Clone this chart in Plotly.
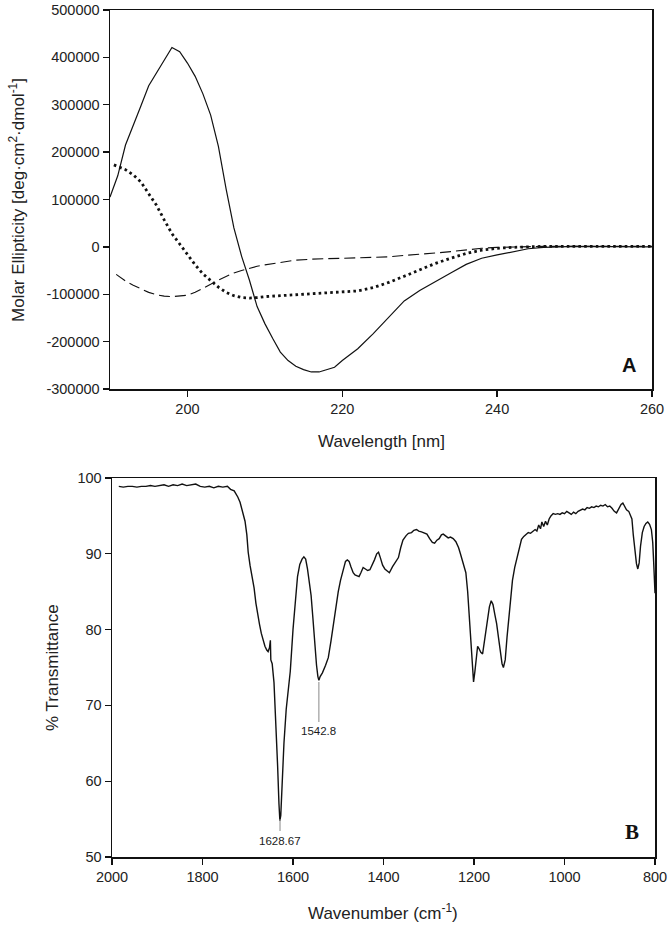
import plotly.graph_objects as go

# ---------------- Panel A: CD spectra ----------------
wl_solid = [190, 191, 192, 192.5, 193, 194, 195, 196, 197, 198, 199, 200, 201, 202, 203, 204, 205,
            206, 207, 208, 209, 210, 211, 212, 213, 214, 215, 216, 217, 218, 219, 220, 221, 222,
            224, 226, 228, 230, 232, 234, 236, 238, 240, 242, 244, 246, 248, 250, 255, 260]
cd_solid = [105000, 150000, 215000, 235000, 255000, 298000, 340000, 368000, 395000, 421000,
            412000, 388000, 360000, 323000, 278000, 212000, 122000, 40000, -20000, -70000,
            -126000, -162000, -193000, -222000, -240000, -252000, -259000, -264000, -264000,
            -259000, -254000, -240000, -228000, -215000, -183000, -148000, -114000, -92000,
            -73000, -55000, -37000, -24000, -17000, -10000, -4000, -1000, 0, 1000, 500, 0]

wl_dot = [190.5, 191, 192, 193, 194, 195, 196, 197, 198, 199, 200, 201, 202, 203, 204, 205, 206,
          207, 208, 209, 210, 212, 214, 216, 218, 220, 222, 224, 226, 228, 230, 232, 234, 236,
          238, 240, 242, 244, 246, 250, 255, 260]
cd_dot = [173000, 170000, 163000, 152000, 137000, 112000, 88000, 57000, 28000, 6000, -16000,
          -38000, -57000, -72000, -85000, -96000, -103000, -107000, -108000, -107000, -105000,
          -103000, -101000, -99000, -98000, -96000, -93000, -86000, -75000, -62000, -48000,
          -35000, -24000, -14000, -7000, -3000, -1000, 0, 1000, 1000, 1000, 1000]

wl_dash = [190.8, 192, 193, 194, 195, 196, 197, 198, 199, 200, 201, 202, 203, 204, 205, 206, 207,
           208, 209, 210, 212, 214, 216, 218, 220, 222, 224, 226, 228, 230, 232, 234, 236, 238,
           240, 242, 244, 246, 250, 255, 260]
cd_dash = [-58000, -72000, -81000, -88000, -96000, -101000, -104000, -105000, -104000, -102000,
           -96000, -88000, -79000, -70000, -62000, -55000, -50000, -45000, -41000, -38000,
           -33000, -28000, -26000, -25000, -24000, -23500, -23000, -21000, -18000, -16000,
           -13000, -10000, -6000, -3000, -1000, 0, 500, 1000, 1000, 1000, 1000]

a_xticks = [200, 220, 240, 260]
a_yticks = [-300000, -200000, -100000, 0, 100000, 200000, 300000, 400000, 500000]
a_yticktext = ["-300000", "-200000", "-100000", "0", "100000", "200000", "300000", "400000",
               "500000"]

# ---------------- Panel B: FTIR spectrum ----------------
wavenumber = [1985, 1975, 1965, 1955, 1945, 1935, 1925, 1915, 1905, 1895, 1885, 1875, 1865, 1855,
              1845, 1835, 1825, 1815, 1805, 1795, 1785, 1775, 1765, 1755, 1745, 1738, 1730, 1722,
              1717, 1712, 1706, 1702, 1699, 1695, 1690, 1686, 1682, 1678, 1674, 1670, 1666, 1662,
              1658, 1655, 1652, 1650, 1649, 1646, 1642, 1638, 1634, 1631, 1629, 1627, 1624, 1620,
              1615, 1610, 1606, 1600, 1595, 1590, 1585, 1580, 1576, 1572, 1568, 1564, 1560, 1556,
              1552, 1548, 1545, 1542.8, 1540, 1535, 1528, 1522, 1516, 1510, 1505, 1500, 1495, 1489,
              1484, 1480, 1476, 1472, 1467, 1463, 1458, 1454, 1450, 1445, 1440, 1435, 1430, 1425,
              1420, 1415, 1411, 1407, 1402, 1397, 1392, 1387, 1380, 1373, 1367, 1362, 1357, 1350,
              1345, 1338, 1333, 1327, 1322, 1316, 1310, 1304, 1298, 1292, 1287, 1282, 1277, 1272,
              1268, 1263, 1257, 1252, 1246, 1240, 1234, 1230, 1226, 1222, 1218, 1214, 1210, 1206,
              1203, 1201, 1198, 1195, 1192, 1189, 1185, 1181, 1178, 1174, 1170, 1166, 1162, 1158,
              1154, 1150, 1146, 1142, 1138, 1135, 1131, 1127, 1123, 1119, 1115, 1110, 1105, 1100,
              1095, 1090, 1085, 1080, 1075, 1070, 1065, 1061, 1057, 1053, 1050, 1046, 1042, 1038,
              1034, 1030, 1025, 1020, 1015, 1010, 1005, 1000, 995, 990, 985, 980, 975, 970, 965,
              960, 955, 950, 945, 940, 935, 930, 925, 920, 915, 910, 905, 900, 895, 890, 885, 880,
              875, 871, 867, 863, 858, 854, 851, 848, 845, 841, 838, 835, 832, 828, 824, 820, 816,
              812, 808, 805, 803, 801, 800]
transmittance = [98.9, 98.8, 98.9, 98.9, 98.8, 98.9, 98.9, 99.0, 98.9, 99.0, 99.1, 98.9, 99.1, 99.0,
                 99.2, 99.0, 99.1, 99.2, 98.9, 98.8, 98.9, 98.7, 98.9, 98.8, 98.9, 98.5, 98.3, 97.5,
                 96.8, 95.6, 94.3, 92.5, 90.2, 88.5, 87.0, 85.5, 83.5, 81.8, 80.7, 79.5, 78.6, 77.8,
                 77.3, 77.1, 77.6, 78.6, 76.0, 75.5, 73.0, 68.0, 62.0, 57.0, 54.8, 55.5, 60.0, 65.0,
                 69.5, 72.0, 74.5, 80.0, 84.0, 87.0, 88.6, 89.3, 89.6, 89.3, 88.0, 86.5, 84.5, 81.5,
                 78.2, 75.3, 73.8, 73.3, 73.8, 74.3, 75.3, 76.3, 78.5, 81.0, 83.5, 85.0, 86.5, 88.1,
                 89.0, 89.2, 89.0, 88.3, 87.5, 87.2, 87.1, 87.0, 87.5, 88.2, 88.0, 87.8, 87.9, 88.5,
                 89.2, 90.0, 90.2, 89.5, 88.5, 88.0, 87.8, 87.5, 88.3, 89.0, 89.5, 90.8, 91.8, 92.4,
                 92.7, 92.8, 93.1, 93.2, 93.0, 92.9, 92.8, 92.6, 92.0, 91.5, 91.4, 91.8, 92.0, 92.5,
                 92.6, 92.4, 92.1, 92.2, 92.0, 91.6, 90.8, 90.0, 89.2, 88.5, 87.5, 85.0, 81.5, 77.5,
                 74.0, 73.1, 74.5, 76.5, 77.8, 77.5, 77.0, 76.8, 78.0, 80.0, 81.5, 83.0, 83.8, 83.3,
                 82.0, 80.8, 79.0, 77.0, 75.5, 75.0, 76.0, 79.0, 81.8, 84.5, 86.5, 88.2, 89.5, 91.0,
                 91.9, 92.3, 92.6, 92.8, 92.7, 93.0, 93.2, 93.0, 93.8, 93.3, 94.2, 93.6, 94.3, 93.8,
                 94.6, 95.0, 95.3, 95.2, 95.3, 95.2, 95.4, 95.3, 95.6, 95.4, 95.2, 95.5, 95.3, 95.6, 95.8,
                 95.9, 95.8, 96.1, 96.0, 96.2, 96.1, 96.3, 96.2, 96.4, 96.3, 96.5, 96.2, 96.3, 96.0, 95.6,
                 95.4, 96.0, 96.5, 96.7, 96.3, 95.8, 95.6, 95.0, 94.6, 92.5, 90.5, 88.7, 88.0, 88.8,
                 91.0, 92.8, 93.6, 94.0, 94.2, 93.9, 93.2, 91.5, 89.0, 86.0, 84.8]

b_xticks = [2000, 1800, 1600, 1400, 1200, 1000, 800]
b_yticks = [50, 60, 70, 80, 90, 100]
peak_labels = ["1628.67", "1542.8"]
peak_pos = [1628.67, 1542.8]

W, H = 672, 928
FONT = "Liberation Sans, Arial, sans-serif"
INK = "#111111"


def px_x(p):
    return p / W


def px_y(p):
    return 1 - p / H


fig = go.Figure()
fig.add_trace(go.Scatter(x=wl_solid, y=cd_solid, mode="lines", xaxis="x", yaxis="y",
                         line=dict(color=INK, width=1.2)))
fig.add_trace(go.Scatter(x=wl_dot, y=cd_dot, mode="lines", xaxis="x", yaxis="y",
                         line=dict(color=INK, width=2.8, dash="2.6px,3.2px")))
fig.add_trace(go.Scatter(x=wl_dash, y=cd_dash, mode="lines", xaxis="x", yaxis="y",
                         line=dict(color=INK, width=1.1, dash="11px,5px")))
fig.add_trace(go.Scatter(x=wavenumber, y=transmittance, mode="lines", xaxis="x2", yaxis="y2",
                         line=dict(color=INK, width=1.4)))

axis_common = dict(showline=True, linecolor=INK, linewidth=1.5, mirror=True, showgrid=False,
                   zeroline=False, ticks="outside", ticklen=6, tickwidth=1.3, tickcolor=INK,
                   automargin=False,
                   tickfont=dict(family=FONT, size=14.5, color="#222222"))

fig.update_layout(
    width=W, height=H, margin=dict(l=0, r=0, t=0, b=0, autoexpand=False),
    paper_bgcolor="white", plot_bgcolor="white", showlegend=False,
    xaxis=dict(domain=[px_x(110), px_x(652)], range=[190, 260], tickvals=a_xticks,
               anchor="y", **axis_common),
    yaxis=dict(domain=[px_y(389), px_y(10)], range=[-300000, 500000], tickvals=a_yticks,
               ticktext=a_yticktext, anchor="x", **axis_common),
    xaxis2=dict(domain=[px_x(112), px_x(655)], range=[2000, 800], tickvals=b_xticks,
                anchor="y2", **axis_common),
    yaxis2=dict(domain=[px_y(857), px_y(478)], range=[50, 100], tickvals=b_yticks,
                anchor="x2", **axis_common),
)

title_font = dict(family=FONT, size=17, color="#222222")
ann = [
    dict(text="Wavelength [nm]", x=px_x(381), y=px_y(441), xref="paper", yref="paper",
         showarrow=False, font=title_font, xanchor="center", yanchor="middle"),
    dict(text="Molar Ellipticity [deg·cm<sup>2</sup>·dmol<sup>-1</sup>]", x=px_x(17), y=px_y(200),
         xref="paper", yref="paper", showarrow=False, font=title_font, textangle=-90,
         xanchor="center", yanchor="middle"),
    dict(text="Wavenumber (cm<sup>-1</sup>)", x=px_x(383), y=px_y(912), xref="paper", yref="paper",
         showarrow=False, font=title_font, xanchor="center", yanchor="middle"),
    dict(text="% Transmittance", x=px_x(52), y=px_y(668), xref="paper", yref="paper",
         showarrow=False, font=title_font, textangle=-90, xanchor="center", yanchor="middle"),
    dict(text="<b>A</b>", x=px_x(629), y=px_y(365), xref="paper", yref="paper", showarrow=False,
         font=dict(family=FONT, size=20, color="#111111"), xanchor="center", yanchor="middle"),
    dict(text="<b>B</b>", x=px_x(632), y=px_y(832), xref="paper", yref="paper", showarrow=False,
         font=dict(family="Liberation Serif, Times New Roman, serif", size=21, color="#111111"),
         xanchor="center", yanchor="middle"),
    dict(text=peak_labels[0], x=peak_pos[0], y=px_y(841), xref="x2", yref="paper",
         showarrow=False, font=dict(family=FONT, size=11.5, color="#1a1a1a"),
         xanchor="center", yanchor="middle"),
    dict(text=peak_labels[1], x=peak_pos[1], y=px_y(731), xref="x2", yref="paper",
         showarrow=False, font=dict(family=FONT, size=11.5, color="#1a1a1a"),
         xanchor="center", yanchor="middle"),
]
fig.update_layout(annotations=ann)

fig.update_layout(shapes=[
    dict(type="line", xref="x2", yref="paper", x0=peak_pos[0], x1=peak_pos[0],
         y0=px_y(819), y1=px_y(831), line=dict(color="#888888", width=1)),
    dict(type="line", xref="x2", yref="paper", x0=peak_pos[1], x1=peak_pos[1],
         y0=px_y(682), y1=px_y(722), line=dict(color="#888888", width=1)),
])

fig.write_html(
    "out.html",
    config={"displayModeBar": False, "staticPlot": True},
    post_script="document.body.style.margin='0';document.body.style.padding='0';"
                "document.body.style.overflow='hidden';",
)
